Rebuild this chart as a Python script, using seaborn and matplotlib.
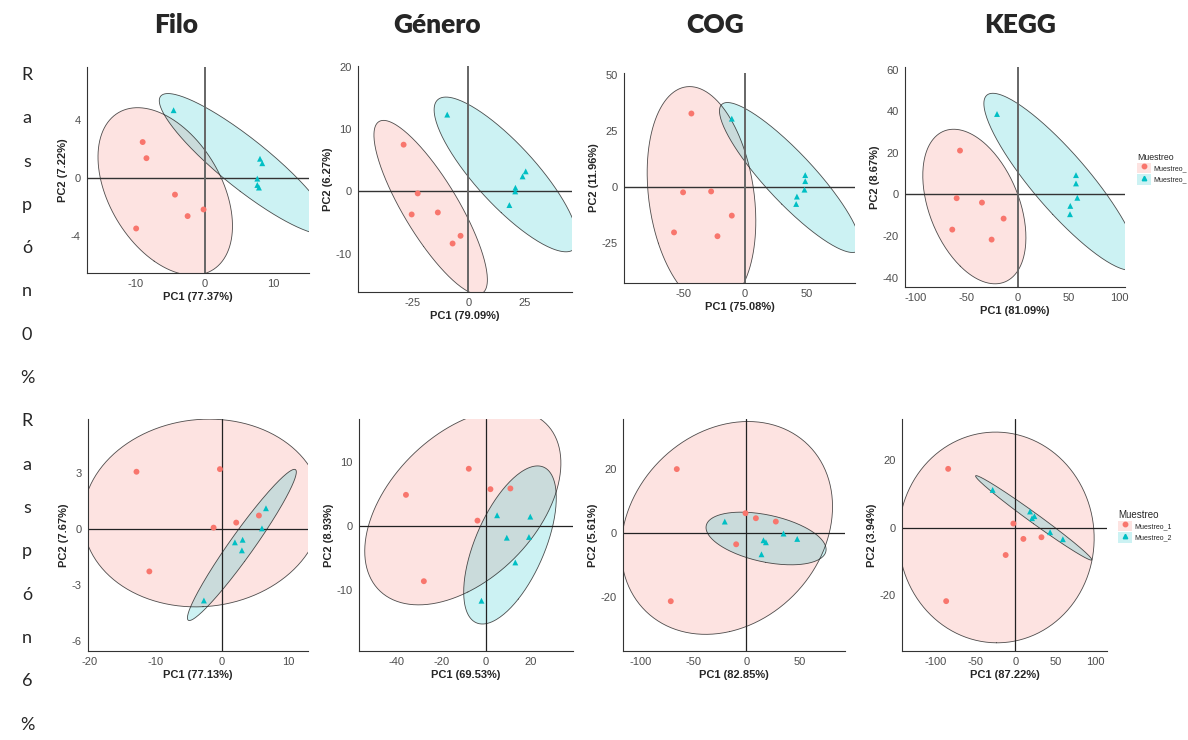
import numpy as np
import pandas as pd
import matplotlib
matplotlib.use("Agg")
import matplotlib.pyplot as plt
import seaborn as sns
from matplotlib.patches import Patch
from matplotlib.lines import Line2D

# ---------------- data ----------------
column_titles = ["Filo", "Género", "COG", "KEGG"]
row_labels = ["Raspón 0%", "Raspón 6%"]
groups = ["Muestreo_1"] * 6 + ["Muestreo_2"] * 6

pc1_var_row0 = [77.37, 79.09, 75.08, 81.09]
pc2_var_row0 = [7.22, 6.27, 11.96, 8.67]
pc1_var_row1 = [77.13, 69.53, 82.85, 87.22]
pc2_var_row1 = [7.67, 8.93, 5.61, 3.94]

# Raspón 0%
filo0_pc1 = [-9.0, -8.45, -4.3, -2.46, -0.14, -9.95, -4.5, 8.07, 8.4, 7.68, 7.68, 7.92]
filo0_pc2 = [2.49, 1.37, -1.16, -2.65, -2.19, -3.51, 4.7, 1.33, 1.02, -0.05, -0.49, -0.67]
genero0_pc1 = [-28.9, -22.6, -25.3, -13.6, -7.0, -3.44, -9.4, 25.7, 24.3, 21.1, 21.0, 18.4]
genero0_pc2 = [7.53, -0.32, -3.71, -3.39, -8.39, -7.15, 12.37, 3.23, 2.42, 0.59, 0.0, -2.2]
cog0_pc1 = [-43.3, -50.0, -27.4, -10.75, -57.3, -22.3, -10.75, 48.4, 48.4, 47.8, 41.7, 41.1]
cog0_pc2 = [33.0, -2.2, -1.8, -12.6, -20.1, -21.8, 30.7, 5.5, 2.8, -1.0, -4.1, -7.4]
kegg0_pc1 = [-56.7, -60.0, -35.1, -13.8, -64.3, -25.6, -20.3, 57.4, 57.4, 58.7, 51.8, 51.5]
kegg0_pc2 = [21.1, -1.8, -3.9, -11.6, -16.9, -21.7, 38.7, 9.3, 5.3, -1.6, -5.5, -9.5]

# Raspón 6%
filo6_pc1 = [-12.95, -0.3, 2.17, 5.61, -1.26, -11.0, 6.68, 6.07, 3.14, 1.97, 3.03, -2.73]
filo6_pc2 = [3.09, 3.23, 0.36, 0.74, 0.09, -2.26, 1.13, 0.05, -0.56, -0.70, -1.13, -3.82]
genero6_pc1 = [-7.6, -35.7, 2.08, 11.0, -3.72, -27.7, 5.06, 19.9, 9.4, 19.3, 13.2, -1.93]
genero6_pc2 = [8.88, 4.83, 5.71, 5.82, 0.83, -8.57, 1.66, 1.45, -1.82, -1.71, -5.66, -11.6]
cog6_pc1 = [-66.1, -0.95, 8.9, 27.8, -9.8, -71.8, -20.6, 35.1, 48.1, 16.1, 18.4, 14.2]
cog6_pc2 = [20.1, 6.28, 4.71, 3.66, -3.46, -21.3, 3.66, -0.1, -1.78, -2.2, -2.83, -6.6]
kegg6_pc1 = [-83.75, -2.5, 10.0, 32.5, -12.1, -86.25, -28.3, 18.3, 20.8, 23.75, 43.3, 59.2]
kegg6_pc2 = [17.3, 1.18, -3.35, -2.86, -8.1, -21.7, 11.1, 4.73, 2.76, 3.35, -1.38, -3.45]

# tick values
filo0_xticks, filo0_yticks = [-10, 0, 10], [-4, 0, 4]
genero0_xticks, genero0_yticks = [-25, 0, 25], [-10, 0, 10, 20]
cog0_xticks, cog0_yticks = [-50, 0, 50], [-25, 0, 25, 50]
kegg0_xticks, kegg0_yticks = [-100, -50, 0, 50, 100], [-40, -20, 0, 20, 40, 60]
filo6_xticks, filo6_yticks = [-20, -10, 0, 10], [-6, -3, 0, 3]
genero6_xticks, genero6_yticks = [-40, -20, 0, 20], [-10, 0, 10]
cog6_xticks, cog6_yticks = [-100, -50, 0, 50], [-20, 0, 20]
kegg6_xticks, kegg6_yticks = [-100, -50, 0, 50, 100], [-20, 0, 20]

# ---------------- style ----------------
sns.set_style("white")
plt.rcParams["font.family"] = ["Liberation Sans", "DejaVu Sans"]
plt.rcParams["axes.unicode_minus"] = False

W, H = 1188, 740
fig = plt.figure(figsize=(W / 100, H / 100), dpi=100)

palette = {"Muestreo_1": "#F8766D", "Muestreo_2": "#00BFC4"}
markers = {"Muestreo_1": "o", "Muestreo_2": "^"}

# panel layout: (left, right, top, bottom) in pixels, axis limits
panels = [
    dict(box=(87, 309, 67, 273), xlim=(-17.1, 15.2), ylim=(-6.6, 7.7),
         x=filo0_pc1, y=filo0_pc2, xt=filo0_xticks, yt=filo0_yticks,
         v1=pc1_var_row0[0], v2=pc2_var_row0[0], row=0),
    dict(box=(358, 572, 66, 292), xlim=(-49.3, 46.4), ylim=(-16.2, 20.2),
         x=genero0_pc1, y=genero0_pc2, xt=genero0_xticks, yt=genero0_yticks,
         v1=pc1_var_row0[1], v2=pc2_var_row0[1], row=0),
    dict(box=(624, 855, 73, 283), xlim=(-97.6, 88.5), ylim=(-42.7, 51.1),
         x=cog0_pc1, y=cog0_pc2, xt=cog0_xticks, yt=cog0_yticks,
         v1=pc1_var_row0[2], v2=pc2_var_row0[2], row=0),
    dict(box=(905, 1125, 67, 287), xlim=(-110.8, 105.6), ylim=(-44.5, 61.3),
         x=kegg0_pc1, y=kegg0_pc2, xt=kegg0_xticks, yt=kegg0_yticks,
         v1=pc1_var_row0[3], v2=pc2_var_row0[3], row=0),
    dict(box=(88, 308, 419, 651), xlim=(-20.3, 13.05), ylim=(-6.53, 5.92),
         x=filo6_pc1, y=filo6_pc2, xt=filo6_xticks, yt=filo6_yticks,
         v1=pc1_var_row1[0], v2=pc2_var_row1[0], row=1),
    dict(box=(359, 573, 419, 651), xlim=(-56.7, 39.0), ylim=(-19.4, 16.6),
         x=genero6_pc1, y=genero6_pc2, xt=genero6_xticks, yt=genero6_yticks,
         v1=pc1_var_row1[1], v2=pc2_var_row1[1], row=1),
    dict(box=(623, 845, 419, 651), xlim=(-117.1, 93.4), ylim=(-36.9, 35.8),
         x=cog6_pc1, y=cog6_pc2, xt=cog6_xticks, yt=cog6_yticks,
         v1=pc1_var_row1[2], v2=pc2_var_row1[2], row=1),
    dict(box=(902, 1107, 419, 651), xlim=(-141.3, 114.2), ylim=(-36.4, 32.0),
         x=kegg6_pc1, y=kegg6_pc2, xt=kegg6_xticks, yt=kegg6_yticks,
         v1=pc1_var_row1[3], v2=pc2_var_row1[3], row=1),
]


def ellipse_path(x, y, level=0.95, n=240):
    pts = np.column_stack([x, y])
    c = pts.mean(axis=0)
    cov = np.cov(pts.T)
    r = np.sqrt(-2.0 * np.log(1.0 - level))
    vals, vecs = np.linalg.eigh(cov)
    t = np.linspace(0, 2 * np.pi, n)
    circ = np.column_stack([np.cos(t), np.sin(t)]) * np.sqrt(vals) * r
    e = circ @ vecs.T + c
    return e[:, 0], e[:, 1]


for p in panels:
    l, r, t, b = p["box"]
    ax = fig.add_axes([l / W, 1 - b / H, (r - l) / W, (b - t) / H])
    df = pd.DataFrame({"PC1": p["x"], "PC2": p["y"], "Muestreo": groups})
    for g, sub in df.groupby("Muestreo"):
        ex, ey = ellipse_path(sub["PC1"].values, sub["PC2"].values)
        ax.fill(ex, ey, facecolor=palette[g], alpha=0.2, edgecolor="none", zorder=1)
        ax.plot(ex, ey, color="#222222", lw=0.6, alpha=0.8, zorder=1.5)
    if p["row"] == 0:
        ax.axhline(0, color="#333333", lw=1.0, zorder=2)
        ax.axvline(0, color="#666666", lw=1.4, zorder=2)
    else:
        ax.axhline(0, color="#222222", lw=0.9, zorder=2)
        ax.axvline(0, color="#222222", lw=0.9, zorder=2)
    sns.scatterplot(data=df, x="PC1", y="PC2", hue="Muestreo", style="Muestreo",
                    palette=palette, markers=markers, s=18, edgecolor="none",
                    legend=False, ax=ax, zorder=3)
    ax.set_xlim(*p["xlim"])
    ax.set_ylim(*p["ylim"])
    ax.set_xticks(p["xt"])
    ax.set_yticks(p["yt"])
    ax.set_xlabel(f"PC1 ({p['v1']:.2f}%)", fontsize=8, fontweight="bold", labelpad=2)
    ax.set_ylabel(f"PC2 ({p['v2']:.2f}%)", fontsize=8, fontweight="bold", labelpad=2)
    for s in ["top", "right"]:
        ax.spines[s].set_visible(False)
    for s in ["left", "bottom"]:
        ax.spines[s].set_color("#333333")
        ax.spines[s].set_linewidth(0.8)
    ax.tick_params(axis="both", labelsize=8, labelcolor="#4D4D4D", color="#333333",
                   length=3, width=0.6, pad=1.5)
    ax.set_facecolor("none")

# column titles
col_x = [176, 437, 715, 1020]
for cx, title in zip(col_x, column_titles):
    fig.text(cx / W, 1 - 25 / H, title, ha="center", va="center",
             fontsize=19, fontweight="heavy", family=["Lato", "DejaVu Sans"])

# vertical row labels (one character per line)
chars = [ch for lab in row_labels for ch in lab if ch != " "]
for i, ch in enumerate(chars):
    fig.text(27 / W, 1 - (75 + i * 43.3) / H, ch, ha="center", va="center",
             fontsize=13, family=["Lato", "DejaVu Sans"])


# legends
def legend_handles():
    hs = []
    for g in groups[::6]:
        hs.append((Patch(facecolor=palette[g], alpha=0.2, edgecolor="none"),
                   Line2D([], [], marker=markers[g], color=palette[g], ls="none", ms=3.2)))
    return hs


fig.legend(legend_handles(), ["Muestreo_", "Muestreo_"], title="Muestreo",
           loc="upper left", bbox_to_anchor=(1137 / W, 1 - 153 / H),
           frameon=False, fontsize=5, title_fontsize=6.3, handlelength=2.0,
           handleheight=2.0, handletextpad=0.4, labelspacing=0.1, alignment="left",
           borderaxespad=0, borderpad=0)
fig.legend(legend_handles(), ["Muestreo_1", "Muestreo_2"], title="Muestreo",
           loc="upper left", bbox_to_anchor=(1118 / W, 1 - 510 / H),
           frameon=False, fontsize=5, title_fontsize=7, handlelength=2.0,
           handleheight=2.0, handletextpad=0.4, labelspacing=0.1, alignment="left",
           borderaxespad=0, borderpad=0)

fig.savefig("out.png", dpi=100, facecolor="white")
